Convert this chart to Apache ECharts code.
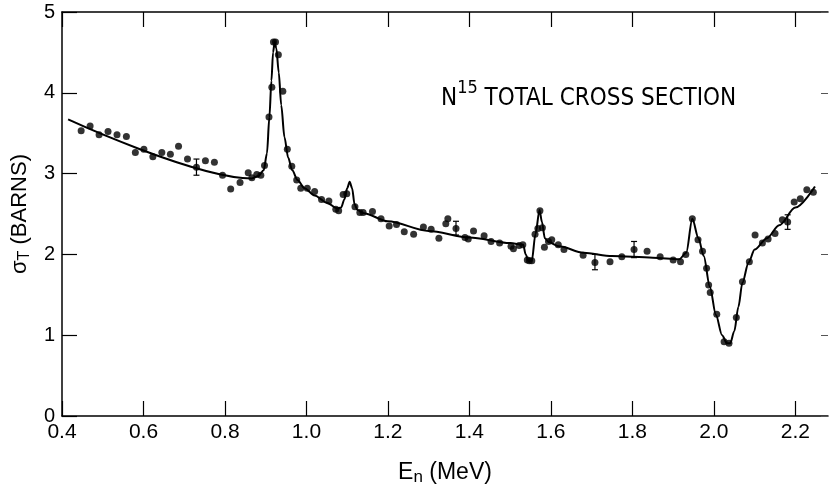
<!DOCTYPE html>
<html>
<head>
<meta charset="utf-8">
<script src="https://cdn.jsdelivr.net/npm/echarts@6/dist/echarts.min.js"></script>
<style>
  html, body { margin: 0; padding: 0; background: #fff; }
  #chart { width: 830px; height: 491px; }
</style>
</head>
<body>
<div id="chart"></div>
<script>
// Tick values for the energy axis (MeV)
const xTicks = [0.4, 0.6, 0.8, 1.0, 1.2, 1.4, 1.6, 1.8, 2.0, 2.2];
// Measured points: energy (MeV) and cross section (barns)
const ptE = [0.447, 0.469, 0.491, 0.513, 0.535, 0.558, 0.580, 0.601, 0.623, 0.645, 0.666, 0.686, 0.708, 0.730, 0.752, 0.774, 0.794, 0.814, 0.837,
  0.857, 0.866, 0.878, 0.888, 0.897, 0.908, 0.915, 0.919, 0.924, 0.931, 0.942, 0.953, 0.964, 0.976, 0.986, 1.002, 1.020, 1.037, 1.055, 1.072, 1.079,
  1.090, 1.099, 1.119, 1.131, 1.139, 1.162, 1.183, 1.203, 1.221, 1.240, 1.263, 1.287, 1.306, 1.325, 1.342, 1.347, 1.367, 1.389, 1.397, 1.410,
  1.436, 1.453, 1.474, 1.502, 1.508, 1.522, 1.531, 1.542, 1.547, 1.553, 1.561, 1.568, 1.573, 1.579, 1.584, 1.594, 1.602, 1.618, 1.632, 1.679,
  1.708, 1.745, 1.774, 1.804, 1.836, 1.868, 1.900, 1.918, 1.931, 1.947, 1.961, 1.972, 1.982, 1.987, 1.991, 2.007, 2.025, 2.037, 2.055, 2.070,
  2.087, 2.101, 2.119, 2.133, 2.150, 2.168, 2.181, 2.197, 2.212, 2.228, 2.244];
const ptS = [3.53, 3.59, 3.48, 3.52, 3.48, 3.46, 3.26, 3.30, 3.21, 3.26, 3.24, 3.34, 3.18, 3.08, 3.16, 3.14, 2.98, 2.81, 2.89,
  3.01, 2.95, 2.99, 2.98, 3.10, 3.70, 4.07, 4.63, 4.63, 4.47, 4.02, 3.30, 3.09, 2.92, 2.82, 2.82, 2.78, 2.68, 2.66, 2.56, 2.54,
  2.74, 2.75, 2.59, 2.52, 2.52, 2.53, 2.44, 2.35, 2.37, 2.28, 2.25, 2.34, 2.31, 2.20, 2.38, 2.44, 2.32, 2.21, 2.19, 2.29,
  2.23, 2.16, 2.14, 2.10, 2.07, 2.11, 2.12, 1.93, 1.92, 1.92, 2.25, 2.32, 2.54, 2.33, 2.09, 2.16, 2.18, 2.12, 2.06, 1.99,
  1.90, 1.91, 1.97, 2.06, 2.04, 1.97, 1.93, 1.91, 2.00, 2.44, 2.18, 2.04, 1.83, 1.62, 1.53, 1.26, 0.92, 0.90, 1.22, 1.66,
  1.91, 2.24, 2.14, 2.19, 2.26, 2.43, 2.40, 2.65, 2.69, 2.80, 2.77];
// Error bars: energy, low, high
const errE = [0.730, 1.367, 1.708, 1.804, 2.181];
const errLo = [2.98, 2.24, 1.81, 1.96, 2.31];
const errHi = [3.18, 2.41, 2.00, 2.16, 2.49];
// Fitted curve
const fitE = [0.415, 0.866, 0.882, 0.895, 0.903, 0.909, 0.914, 0.918, 0.922, 0.926, 0.932, 0.938, 0.946, 0.955, 0.965, 0.978, 0.995,
  1.02, 1.05, 1.075, 1.085, 1.093, 1.1, 1.106, 1.112, 1.118, 1.125, 1.14, 1.2, 1.3, 1.4, 1.5, 1.532, 1.538, 1.545, 1.553, 1.562,
  1.572, 1.578, 1.585, 1.595, 1.62, 1.68, 1.75, 1.85, 1.915, 1.932, 1.947, 1.962, 1.975, 1.99, 2.005, 2.02, 2.032, 2.04, 2.05,
  2.06, 2.07, 2.085, 2.1, 2.13, 2.16, 2.2, 2.248];
const fitS = [3.67, 2.94, 2.97, 3.04, 3.25, 3.7, 4.15, 4.5, 4.63, 4.55, 4.25, 3.85, 3.45, 3.2, 3.04, 2.92, 2.82,
  2.73, 2.64, 2.57, 2.58, 2.68, 2.82, 2.9, 2.82, 2.62, 2.55, 2.51, 2.41, 2.29, 2.21, 2.14, 2.12, 2.0, 1.92, 1.92, 2.25,
  2.55, 2.4, 2.2, 2.15, 2.10, 2.02, 1.98, 1.96, 1.94, 2.02, 2.44, 2.2, 1.98, 1.6, 1.25, 1.0, 0.9, 0.9, 1.05,
  1.35, 1.65, 1.9, 2.06, 2.2, 2.36, 2.58, 2.84];

const ink = '#000';
const font = '"Liberation Sans", Arial, sans-serif';
const narrow = '"Liberation Sans Narrow", "DejaVu Sans Condensed", sans-serif';

const chart = echarts.init(document.getElementById('chart'));
chart.setOption({
  backgroundColor: '#fff',
  animation: false,
  title: {
    text: '{n|N}{sup|15}{n| TOTAL CROSS SECTION}',
    left: 436,
    top: 74,
    textStyle: {
      fontWeight: 'normal',
      rich: {
        n: { fontFamily: narrow, fontWeight: 'normal', fontSize: 24, color: ink, lineHeight: 32, verticalAlign: 'bottom' },
        sup: { fontFamily: narrow, fontWeight: 'normal', fontSize: 18, color: ink, lineHeight: 18, verticalAlign: 'top' }
      }
    }
  },
  grid: { left: 62, right: 2, top: 12, bottom: 73 },
  xAxis: [{
    type: 'value',
    min: 0.4,
    max: 2.28,
    interval: 0.2,
    name: '{e|E}{n|n}{e| (MeV)}',
    nameLocation: 'middle',
    nameGap: 44,
    nameTextStyle: {
      rich: {
        e: { fontFamily: font, fontSize: 23, color: ink, lineHeight: 26, verticalAlign: 'middle' },
        n: { fontFamily: font, fontSize: 17, color: ink, lineHeight: 16, verticalAlign: 'bottom' }
      }
    },
    axisLine: { show: true, onZero: false, lineStyle: { color: ink, width: 1.5 } },
    axisTick: { show: true, inside: true, length: 15, customValues: xTicks, lineStyle: { color: ink, width: 1.2 } },
    axisLabel: {
      customValues: xTicks,
      margin: 6,
      fontFamily: font, fontSize: 21, color: ink,
      formatter: v => v.toFixed(1)
    },
    splitLine: { show: false }
  }, {
    type: 'value',
    position: 'top',
    min: 0.4,
    max: 2.28,
    interval: 0.2,
    axisLine: { show: true, onZero: false, lineStyle: { color: ink, width: 1.5 } },
    axisTick: { show: true, inside: true, length: 15, customValues: xTicks, lineStyle: { color: ink, width: 1.2 } },
    axisLabel: { show: false },
    splitLine: { show: false }
  }],
  yAxis: [{
    type: 'value',
    min: 0,
    max: 5,
    interval: 1,
    name: '{s|σ}{t|T}{s| (BARNS)}',
    nameLocation: 'middle',
    nameGap: 25,
    nameRotate: 90,
    nameTextStyle: {
      rich: {
        s: { fontFamily: font, fontSize: 22, color: ink, lineHeight: 26, verticalAlign: 'middle' },
        t: { fontFamily: font, fontSize: 16, color: ink, lineHeight: 15, verticalAlign: 'bottom' }
      }
    },
    axisLine: { show: true, onZero: false, lineStyle: { color: ink, width: 1.5 } },
    axisTick: { show: true, inside: true, length: 15, lineStyle: { color: ink, width: 1.2 } },
    axisLabel: { margin: 7, fontFamily: font, fontSize: 20, color: ink },
    splitLine: { show: false }
  }, {
    type: 'value',
    position: 'right',
    min: 0,
    max: 5,
    interval: 1,
    axisLine: { show: false, onZero: false },
    axisTick: { show: true, inside: true, length: 7, lineStyle: { color: '#555', width: 1 } },
    axisLabel: { show: false },
    splitLine: { show: false }
  }],
  series: [{
    type: 'line',
    name: 'fit',
    data: fitE.map((e, i) => [e, fitS[i]]),
    showSymbol: false,
    smooth: 0.3,
    smoothMonotone: 'x',
    lineStyle: { color: ink, width: 2 },
    z: 2
  }, {
    type: 'custom',
    name: 'errors',
    data: errE.map((e, i) => [e, errLo[i], errHi[i]]),
    renderItem: function (params, api) {
      const lo = api.coord([api.value(0), api.value(1)]);
      const hi = api.coord([api.value(0), api.value(2)]);
      const w = 3;
      return {
        type: 'group',
        children: [
          { type: 'line', shape: { x1: lo[0], y1: lo[1], x2: hi[0], y2: hi[1] }, style: { stroke: ink, lineWidth: 1.2 } },
          { type: 'line', shape: { x1: lo[0] - w, y1: lo[1], x2: lo[0] + w, y2: lo[1] }, style: { stroke: ink, lineWidth: 1.2 } },
          { type: 'line', shape: { x1: hi[0] - w, y1: hi[1], x2: hi[0] + w, y2: hi[1] }, style: { stroke: ink, lineWidth: 1.2 } }
        ]
      };
    },
    z: 3
  }, {
    type: 'scatter',
    name: 'data',
    data: ptE.map((e, i) => [e, ptS[i]]),
    symbol: 'circle',
    symbolSize: 7,
    itemStyle: { color: ink },
    z: 4
  }]
});
</script>
</body>
</html>
